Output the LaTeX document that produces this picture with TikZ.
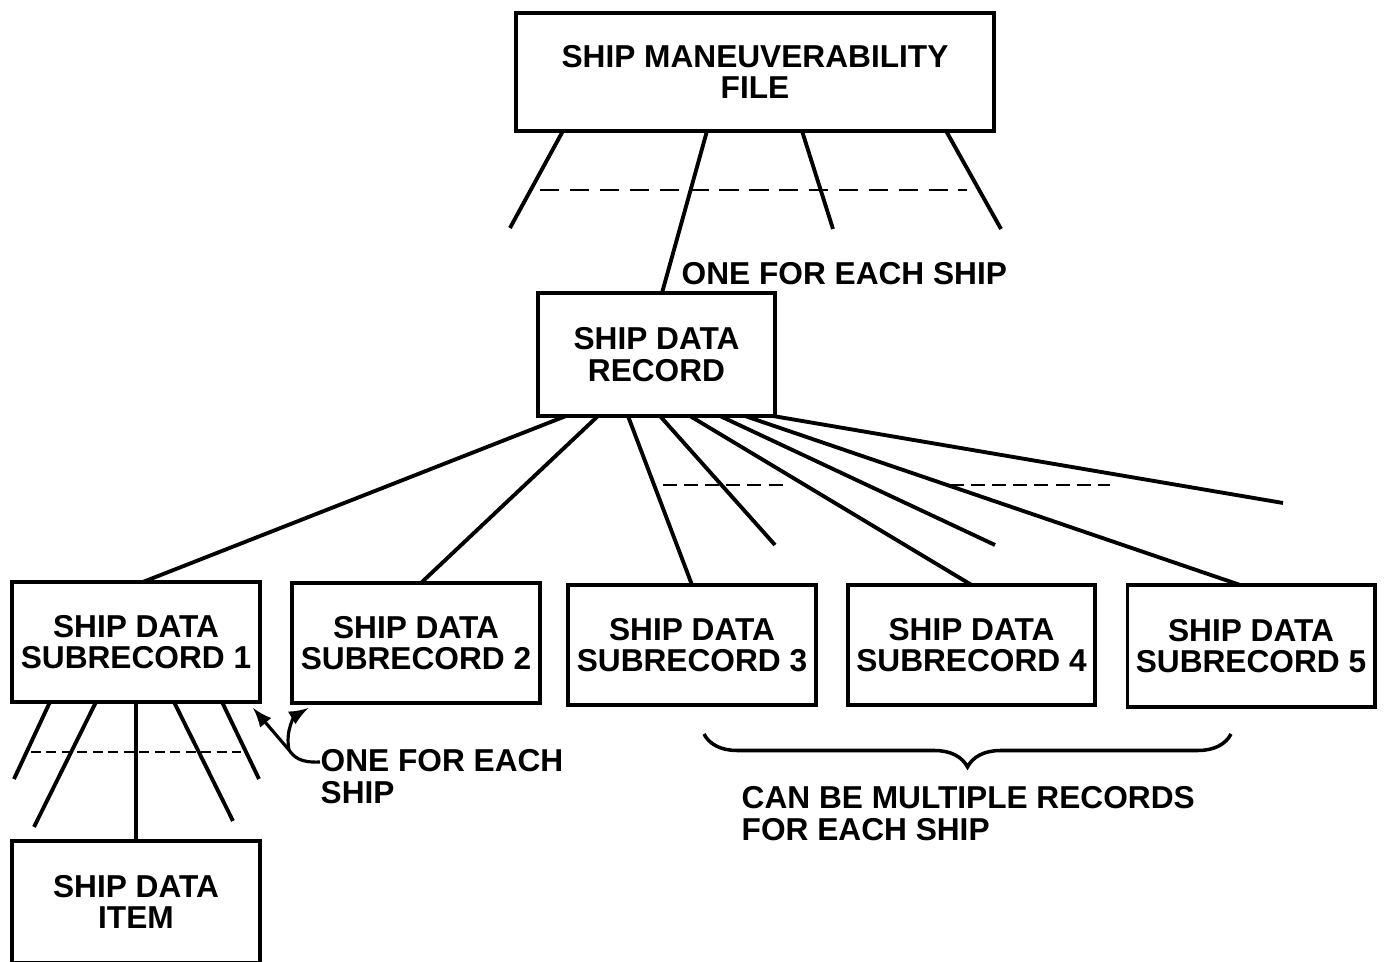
\documentclass[tikz,border=0pt]{standalone}
\usepackage{fontspec}
\setmainfont{Liberation Sans}
\usetikzlibrary{decorations.pathreplacing}
\tikzset{txt/.style={font=\fontsize{9}{9}\selectfont\bfseries, inner sep=0pt},
  box/.style={txt, draw, line width=1.1pt, align=center, outer sep=0pt},
  sub/.style={box, minimum width=2.47cm, minimum height=1.2cm},
  link/.style={line width=1.1pt},
  gap/.style={line width=.8pt, dash pattern=on 5.5pt off 3pt}}

\begin{document}
\begin{tikzpicture}[x=0.01cm,y=-0.01cm]
\useasboundingbox (0,0) rectangle (1384,962);
% boxes
\node[box, minimum width=4.78cm, minimum height=1.18cm] (file) at (755,72) {SHIP MANEUVERABILITY\\FILE};
\node[box, minimum width=2.37cm, minimum height=1.23cm] (rec) at (656.5,354.5) {SHIP DATA\\RECORD};
\node[sub, minimum width=2.48cm] (sub1) at (136,642) {SHIP DATA\\SUBRECORD 1};
\node[sub] (sub2) at (416,643) {SHIP DATA\\SUBRECORD 2};
\node[sub] (sub3) at (692,645) {SHIP DATA\\SUBRECORD 3};
\node[sub] (sub4) at (971.5,645) {SHIP DATA\\SUBRECORD 4};
\node[sub, minimum height=1.22cm] (sub5) at (1251,646) {SHIP DATA\\SUBRECORD 5};
\node[box, minimum width=2.48cm, minimum height=1.22cm] (item) at (136,902) {SHIP DATA\\ITEM};
% free ends
\coordinate (f1) at (510,228);
\coordinate (f3) at (833,229);
\coordinate (f4) at (1001,229);
\coordinate (r1) at (775,545);
\coordinate (r2) at (995,545);
\coordinate (r3) at (1283,503);
\coordinate (s1) at (14,779);
\coordinate (s2) at (34,827);
\coordinate (s3) at (233,821);
\coordinate (s4) at (259,779);
\coordinate (fork) at (289,750);
% file -> record
\draw[link] ([xshift=-1.92cm]file.south)--(f1);
\draw[link] ([xshift=-.48cm]file.south)--([xshift=.055cm]rec.north);
\draw[link] ([xshift=.47cm]file.south)--(f3);
\draw[link] ([xshift=1.91cm]file.south)--(f4);
\draw[gap] (540,190)--(967,190);
\node[txt, anchor=north west] (oneship1) at (681,262) {ONE FOR EACH SHIP};
% record -> subrecords
\draw[link] ([xshift=-.905cm]rec.south)--([xshift=.07cm]sub1.north);
\draw[link] ([xshift=-.585cm]rec.south)--([xshift=.05cm]sub2.north);
\draw[link] ([xshift=-.285cm]rec.south)--(sub3.north);
\draw[link] ([xshift=.035cm]rec.south)--(r1);
\draw[link] ([xshift=.335cm]rec.south)--(sub4.north);
\draw[link] ([xshift=.635cm]rec.south)--(r2);
\draw[link] ([xshift=.885cm]rec.south)--([xshift=-.11cm]sub5.north);
\draw[link] ([xshift=-.02cm]rec.south east)--(r3);
\draw[gap, dash pattern=on 4pt off 2pt] (663,485)--(787,485);
\draw[gap, dash pattern=on 4pt off 2pt] (950,485)--(1110,485);
% subrecord 1 -> items
\draw[link] ([xshift=-.86cm]sub1.south)--(s1);
\draw[link] ([xshift=-.40cm]sub1.south)--(s2);
\draw[link] (sub1.south)--(item.north);
\draw[link] ([xshift=.38cm]sub1.south)--(s3);
\draw[link] ([xshift=.86cm]sub1.south)--(s4);
\draw[gap, dash pattern=on 2.8pt off 1.6pt] (31,752)--(241,752);
% notes
\node[txt, anchor=north west, align=left] (oneship2) at (320,749) {ONE FOR EACH\\SHIP};
\draw[line width=.9pt, -latex] ([yshift=-.13cm]oneship2.north west) .. controls (300,763) and (294,757) .. (fork)
  -- ([shift={(-.07cm,-.06cm)}]sub1.south east);
\draw[line width=.9pt, -latex] (fork) .. controls (285,730) and (295,716) .. ([shift={(.16cm,-.05cm)}]sub2.south west);
\draw[line width=1pt, decorate, decoration={brace, mirror, amplitude=.33cm}] (704,734)--(1231,734);
\node[txt, anchor=north west, align=left] (multi) at (741,786) {CAN BE MULTIPLE RECORDS\\FOR EACH SHIP};
\end{tikzpicture}
\end{document}
